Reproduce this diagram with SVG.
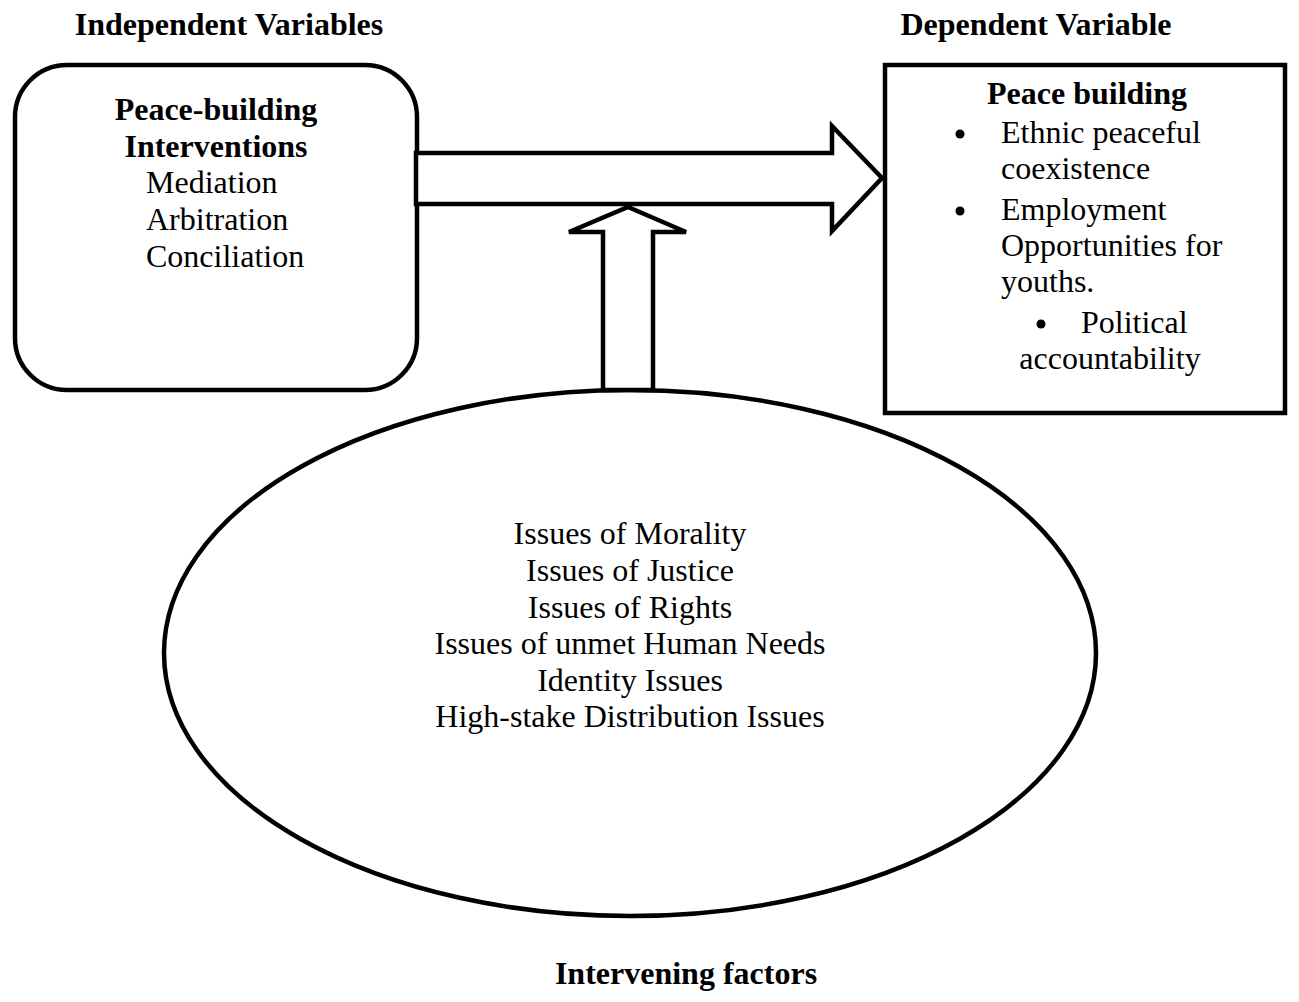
<svg xmlns="http://www.w3.org/2000/svg" width="1299" height="1002" viewBox="0 0 1299 1002">
<style>
text{font-family:"Liberation Serif","Times New Roman",serif;font-size:32px;fill:#000}
.b{font-weight:bold}
.c{text-anchor:middle}
.shape{fill:#fff;stroke:#000;stroke-width:4.5}
.arrow{fill:#fff;stroke:#000;stroke-width:4.5;stroke-linejoin:miter}
</style>
<rect width="1299" height="1002" fill="#fff"/>
<g id="label-independent"><text class="b c" x="229" y="35">Independent Variables</text></g>
<g id="label-dependent"><text class="b c" x="1036" y="35">Dependent Variable</text></g>
<g id="node-interventions">
<rect class="shape" x="15" y="65" width="402" height="325" rx="52" ry="52"/>
<text class="b c" x="216" y="120">Peace-building</text>
<text class="b c" x="216" y="157">Interventions</text>
<text x="146" y="193">Mediation</text>
<text x="146" y="230">Arbitration</text>
<text x="146" y="267">Conciliation</text>
</g>
<g id="node-peacebuilding">
<rect class="shape" x="885" y="65" width="400" height="348"/>
<text class="b c" x="1087" y="104">Peace building</text>
<circle cx="960" cy="134" r="4.5"/>
<text x="1001" y="143">Ethnic peaceful</text>
<text x="1001" y="179">coexistence</text>
<circle cx="960" cy="211" r="4.5"/>
<text x="1001" y="220">Employment</text>
<text x="1001" y="256">Opportunities for</text>
<text x="1001" y="292">youths.</text>
<circle cx="1041" cy="324" r="4.5"/>
<text x="1081" y="333">Political</text>
<text class="c" x="1110" y="369">accountability</text>
</g>
<g id="node-intervening">
<ellipse class="shape" cx="630" cy="653" rx="466" ry="263"/>
<text class="c" x="630" y="544">Issues of Morality</text>
<text class="c" x="630" y="581">Issues of Justice</text>
<text class="c" x="630" y="618">Issues of Rights</text>
<text class="c" x="630" y="654">Issues of unmet Human Needs</text>
<text class="c" x="630" y="691">Identity Issues</text>
<text class="c" x="630" y="727">High-stake Distribution Issues</text>
</g>
<g id="label-intervening"><text class="b c" x="686" y="984">Intervening factors</text></g>
<g id="connectors">
<polygon class="arrow" points="416,153 832,153 832,126 882,178 832,231 832,204 416,204"/>
<polygon class="arrow" points="628,207 686,232 653,232 653,390 603,390 603,232 569,232"/>
</g>
</svg>
